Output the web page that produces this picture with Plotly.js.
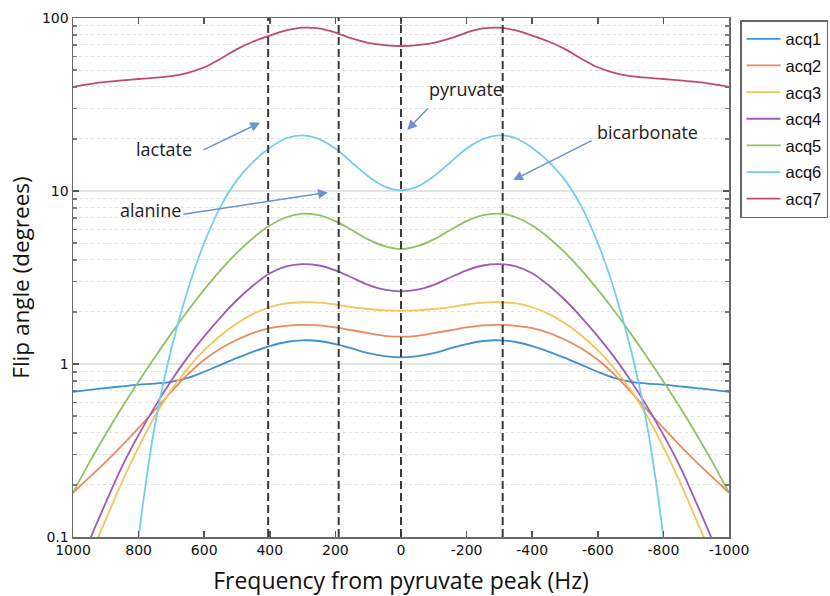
<!DOCTYPE html>
<html>
<head>
<meta charset="utf-8">
<script src="https://cdn.plot.ly/plotly-3.0.1.min.js"></script>
<style>html,body{margin:0;padding:0;background:#fff;}#chart{width:830px;height:596px;}</style>
</head>
<body>
<div id="chart"></div>
<script>
// Frequency offsets from the pyruvate peak (Hz)
const freq = [1000,950,900,850,800,750,700,650,600,550,500,450,400,350,300,250,200,150,100,50,0,
  -50,-100,-150,-200,-250,-300,-350,-400,-450,-500,-550,-600,-650,-700,-750,-800,-850,-900,-950,-1000];

// Flip angle (degrees) per acquisition
const acq1 = [0.69,0.708,0.726,0.743,0.759,0.771,0.789,0.832,0.902,0.989,1.084,1.18,1.27,1.34,1.371,1.358,1.303,1.23,1.156,1.109,1.091,
  1.109,1.156,1.23,1.303,1.358,1.371,1.34,1.27,1.18,1.084,0.989,0.902,0.832,0.789,0.771,0.759,0.743,0.726,0.708,0.69];
const acq2 = [0.18,0.221,0.272,0.339,0.427,0.543,0.692,0.871,1.059,1.23,1.38,1.514,1.61,1.663,1.683,1.671,1.626,1.567,1.507,1.455,1.439,
  1.455,1.507,1.567,1.626,1.671,1.683,1.663,1.61,1.514,1.38,1.23,1.059,0.871,0.692,0.543,0.427,0.339,0.272,0.221,0.18];
const acq3 = [0.045,0.076,0.126,0.209,0.331,0.501,0.708,0.944,1.202,1.462,1.718,1.95,2.128,2.239,2.275,2.265,2.208,2.133,2.08,2.042,2.03,
  2.042,2.08,2.133,2.208,2.265,2.275,2.239,2.128,1.95,1.718,1.462,1.202,0.944,0.708,0.501,0.331,0.209,0.126,0.076,0.045];
const acq4 = [0.052,0.095,0.158,0.257,0.389,0.569,0.804,1.096,1.445,1.862,2.344,2.85,3.35,3.67,3.78,3.71,3.48,3.16,2.87,2.69,2.63,
  2.69,2.87,3.16,3.48,3.71,3.78,3.67,3.35,2.85,2.344,1.862,1.445,1.096,0.804,0.569,0.389,0.257,0.158,0.095,0.052];
const acq5 = [0.18,0.27,0.394,0.564,0.793,1.099,1.503,2.03,2.69,3.49,4.4,5.37,6.31,7.05,7.4,7.25,6.7,5.95,5.25,4.8,4.62,
  4.8,5.25,5.95,6.7,7.25,7.4,7.05,6.31,5.37,4.4,3.49,2.69,2.03,1.503,1.099,0.793,0.564,0.394,0.27,0.18];
const acq6 = [null,null,0.0009,0.014,0.1,0.447,1.23,2.69,5.01,8.13,11.56,14.79,17.78,20.18,20.99,19.95,17.58,14.62,12.16,10.59,10.09,
  10.59,12.16,14.62,17.58,19.95,20.99,20.18,17.78,14.79,11.56,8.13,5.01,2.69,1.23,0.447,0.1,0.014,0.0009,null,null];
const acq7 = [40,41.5,42.7,43.6,44.4,45.2,46.2,48.2,51.9,58.2,66.1,73.1,79.1,84.7,87.9,87.1,82.4,76.2,71.9,69.7,68.9,
  69.7,71.9,76.2,82.4,87.1,87.9,84.7,79.1,73.1,66.1,58.2,51.9,48.2,46.2,45.2,44.4,43.6,42.7,41.5,40];

const seriesNames = ['acq1','acq2','acq3','acq4','acq5','acq6','acq7'];
const seriesValues = [acq1,acq2,acq3,acq4,acq5,acq6,acq7];
const seriesColors = ['#3f8fd2','#ea8a5f','#f3c55a','#a05ab5','#93c062','#74cdf0','#bf4c68'];

// Metabolite resonance frequencies (Hz) marked by dashed lines
const peakFreqs = [405, 190, 0, -310];

const xTickVals = [1000,800,600,400,200,0,-200,-400,-600,-800,-1000];
const xTickText = ['1000','800','600','400','200','0','-200','-400','-600','-800','-1000'];

const traces = seriesNames.map((n,i)=>({
  x: freq, y: seriesValues[i], name: n, type:'scatter', mode:'lines',
  legendgroup: n,
  line:{color: seriesColors[i], width:1.8, shape:'spline', smoothing:1},
  connectgaps:false, hoverinfo:'skip'
}));

const shapes = peakFreqs.map(f=>({
  type:'line', xref:'x', yref:'paper', x0:f, x1:f, y0:0, y1:1,
  line:{color:'#3a3a3a', width:2, dash:'8px,4px'}, layer:'above'
}));

const txtFont = {family:'Open Sans, sans-serif', size:18, color:'#222'};
const arrowStyle = {showarrow:true, arrowhead:2, arrowsize:1.3, arrowwidth:1.5, arrowcolor:'#6f8fd6', text:'', standoff:0, startstandoff:0};
const annotations = [
  {x:722, y:1.241, xref:'x', yref:'y', text:'lactate', showarrow:false, font:txtFont},
  {x:765, y:0.890, xref:'x', yref:'y', text:'alanine', showarrow:false, font:txtFont},
  {x:-197, y:1.588, xref:'x', yref:'y', text:'pyruvate', showarrow:false, font:txtFont},
  {x:-750, y:1.343, xref:'x', yref:'y', text:'bicarbonate', showarrow:false, font:txtFont},
  Object.assign({x:430, y:1.395, xref:'x', yref:'y', ax:-58, ay:28}, arrowStyle),
  Object.assign({x:223, y:0.992, xref:'x', yref:'y', ax:-146, ay:22}, arrowStyle),
  Object.assign({x:-19, y:1.353, xref:'x', yref:'y', ax:22, ay:-23}, arrowStyle),
  Object.assign({x:-342, y:1.064, xref:'x', yref:'y', ax:80, ay:-40}, arrowStyle)
];

const layout = {
  width:830, height:596,
  margin:{l:73, r:101, t:18, b:59, autoexpand:false},
  paper_bgcolor:'#fff', plot_bgcolor:'#fff',
  showlegend:true,
  legend:{x:1.0168, y:0.996, xanchor:'left', yanchor:'top',
    bordercolor:'#666', borderwidth:1.5, bgcolor:'#fff',
    font:{family:'Liberation Sans, Arial, sans-serif', size:16.5, color:'#111'},
    tracegroupgap:2.2, traceorder:'grouped', itemwidth:34},
  xaxis:{
    range:[1000,-1000], tickmode:'array', tickvals:xTickVals, ticktext:xTickText,
    ticks:'inside', ticklen:6, tickwidth:1.5, tickcolor:'#555',
    showline:true, linecolor:'#6a6a6a', linewidth:1.5, mirror:'ticks',
    showgrid:false, zeroline:false, automargin:false,
    tickfont:{family:'DejaVu Sans, sans-serif', size:14, color:'#111'},
    title:{text:'Frequency from pyruvate peak (Hz)', standoff:15,
      font:{family:'Open Sans, sans-serif', size:23, color:'#111'}}
  },
  yaxis:{
    type:'log', range:[-1,2], tickmode:'linear', tick0:0, dtick:1,
    ticks:'inside', ticklen:6, tickwidth:1.5, tickcolor:'#555',
    showline:true, linecolor:'#6a6a6a', linewidth:1.5, mirror:'ticks',
    showgrid:true, gridcolor:'#e3e3e3', gridwidth:1.5, zeroline:false, automargin:false,
    tickfont:{family:'DejaVu Sans, sans-serif', size:14, color:'#111'},
    minor:{dtick:'D1', ticks:'inside', ticklen:4, tickcolor:'#777',
      showgrid:true, gridcolor:'#e0e0e0', griddash:'dot', gridwidth:1},
    title:{text:'Flip angle (degrees)', standoff:6,
      font:{family:'Open Sans, sans-serif', size:22.5, color:'#111'}}
  },
  shapes: shapes,
  annotations: annotations
};

Plotly.newPlot('chart', traces, layout, {displayModeBar:false, staticPlot:true});
</script>
</body>
</html>
